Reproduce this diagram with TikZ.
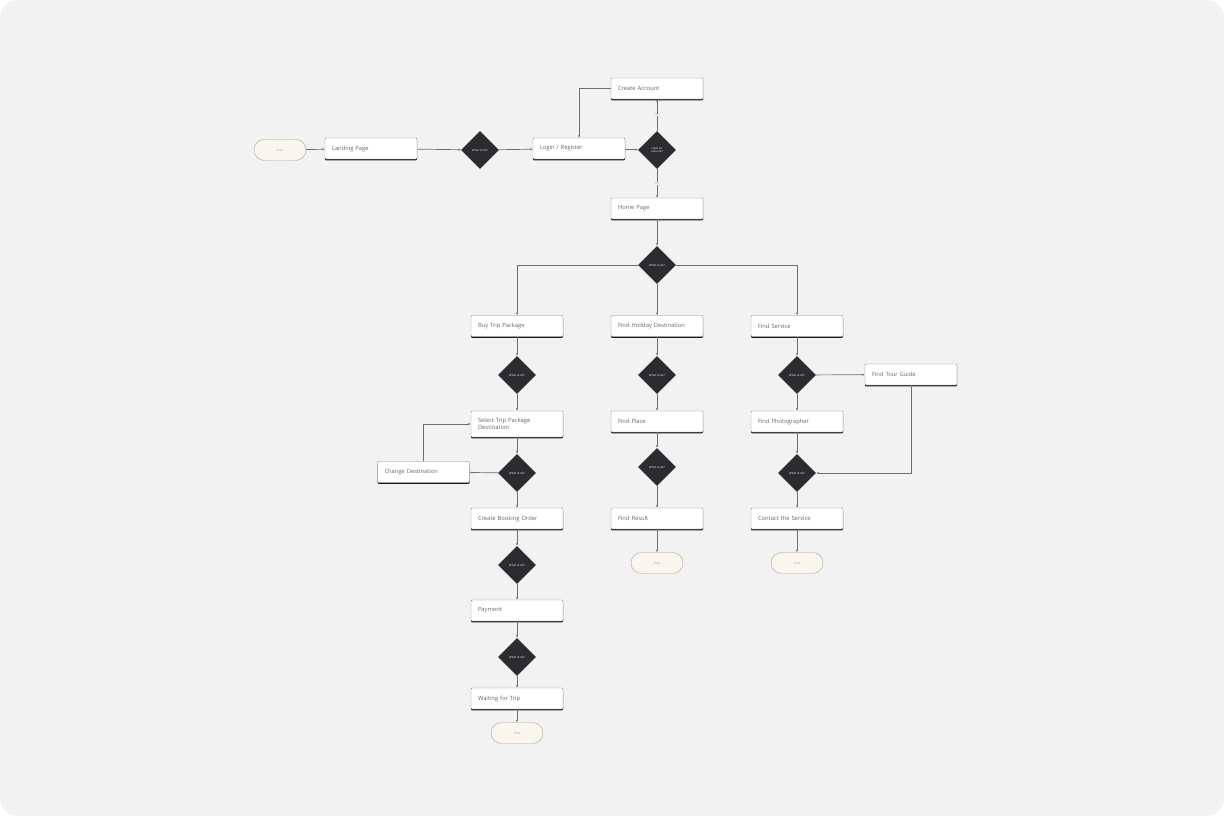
\documentclass[tikz,border=0pt]{standalone}
\usepackage{fontspec}
\setmainfont{Open Sans}
\usetikzlibrary{shapes.geometric,shadows,arrows.meta}
\definecolor{canvas}{HTML}{F2F2F2}
\definecolor{dkdiam}{HTML}{2B2B30}
\definecolor{pillfill}{HTML}{FAF6EE}
\definecolor{linegray}{HTML}{6E6E6E}
\tikzset{
  stepbox/.style={draw=black!45, fill=white, rounded corners=1pt,
    minimum width=92pt, minimum height=21pt, text width=78pt, inner xsep=7pt,
    inner ysep=3pt, align=left, font=\fontsize{5.8}{7.2}\selectfont, text=black!60,
    drop shadow={shadow xshift=0pt, shadow yshift=-1.3pt, fill=black!90, opacity=1}},
  decide/.style={diamond, fill=dkdiam, minimum width=38pt, minimum height=38pt,
    inner sep=0pt, text=white, align=center, font=\fontsize{2.8}{3.4}\selectfont},
  term/.style={draw=black!35, fill=pillfill, rounded corners=10.5pt,
    minimum width=52pt, minimum height=21pt, text=black!40, font=\fontsize{3}{4}\selectfont},
  flow/.style={draw=linegray, line width=0.7pt, -{Latex[length=2.5pt,width=2.2pt]}},
  lbl/.style={fill=canvas, inner sep=0.5pt, text=black!40, font=\fontsize{2.6}{3}\selectfont}
}
\begin{document}
\begin{tikzpicture}[x=1pt, y=1pt]
  % canvas
  \fill[white] (0,0) rectangle (1224,-816);
  \fill[canvas, rounded corners=18pt] (0,0) rectangle (1224,-816);
  \useasboundingbox (0,0) rectangle (1224,-816);

  % entry and login
  \node[term] (start) at (280,-150) {Start};
  \node[stepbox] (landing) at (371,-148.5) {Landing Page};
  \node[decide] (dland) at (480,-150) {What to do?};
  \node[stepbox] (login) at (579,-148.5) {Login / Register};
  \node[decide] (dacct) at (657,-150) {Have an\\account?};
  \node[stepbox] (create) at (657,-88.5) {Create Account};
  \node[stepbox] (home) at (657,-208.5) {Home Page};
  \node[decide] (dhome) at (657,-265) {What to do?};

  % left column: trip package
  \node[stepbox] (buy) at (517,-326) {Buy Trip Package};
  \node[decide] (dbuy) at (517,-375) {What to do?};
  \node[stepbox, minimum height=26pt] (select) at (517,-424) {Select Trip Package\\Destination};
  \node[decide] (dsel) at (517,-473) {What to do?};
  \node[stepbox] (change) at (423.5,-472) {Change Destination};
  \node[stepbox] (booking) at (517,-518.5) {Create Booking Order};
  \node[decide] (dbook) at (517,-565) {What to do?};
  \node[stepbox] (payment) at (517,-610.5) {Payment};
  \node[decide] (dpay) at (517,-657) {What to do?};
  \node[stepbox] (waiting) at (517,-698.5) {Waiting for Trip};
  \node[term] (endA) at (517,-733) {End};

  % middle column: holiday destination
  \node[stepbox] (holiday) at (657,-326) {Find Holiday Destination};
  \node[decide] (dhol) at (657,-375) {What to do?};
  \node[stepbox] (place) at (657,-421.5) {Find Place};
  \node[decide] (dplace) at (657,-467) {What to do?};
  \node[stepbox] (result) at (657,-518.5) {Find Result};
  \node[term] (endB) at (657,-563) {End};

  % right column: services
  \node[stepbox] (service) at (797,-326) {Find Service};
  \node[decide] (dsvc) at (797,-375) {What to do?};
  \node[stepbox] (guide) at (911,-374.5) {Find Tour Guide};
  \node[stepbox] (photo) at (797,-421.5) {Find Photographer};
  \node[decide] (dphoto) at (797,-473) {What to do?};
  \node[stepbox] (contact) at (797,-518.5) {Contact the Service};
  \node[term] (endC) at (797,-563) {End};

  % connectors
  \foreach \a/\b in {start/landing, landing/dland, dland/login, login/dacct, home/dhome}
    \draw[flow] (\a) -- (\b);
  \draw[flow] (dacct) -- node[lbl] {No} (create);
  \draw[flow] (dacct) -- node[lbl] {Yes} (home);
  \draw[flow] (create.west) -| (login.north);
  \draw[flow] (dhome.west) -| (buy.north);
  \draw[flow] (dhome) -- (holiday);
  \draw[flow] (dhome.east) -| (service.north);

  \foreach \a/\b in {buy/dbuy, dbuy/select, select/dsel, dsel/booking, booking/dbook,
      dbook/payment, payment/dpay, dpay/waiting, waiting/endA}
    \draw[flow] (\a) -- (\b);
  \draw[flow] (dsel) -- (change);
  \draw[flow] (change.north) |- (select.west);

  \foreach \a/\b in {holiday/dhol, dhol/place, place/dplace, dplace/result, result/endB}
    \draw[flow] (\a) -- (\b);

  \foreach \a/\b in {service/dsvc, dsvc/photo, photo/dphoto, dphoto/contact, contact/endC, dsvc/guide}
    \draw[flow] (\a) -- (\b);
  \draw[flow] (guide.south) |- (dphoto.east);
\end{tikzpicture}
\end{document}
